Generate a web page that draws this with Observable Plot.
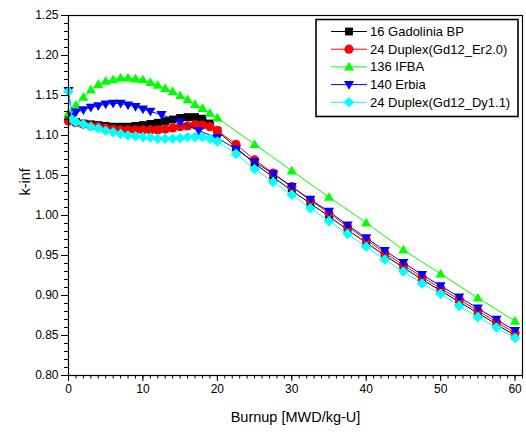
<!DOCTYPE html>
<html><head><meta charset="utf-8">
<script src="https://cdn.jsdelivr.net/npm/d3@7"></script>
<script src="https://cdn.jsdelivr.net/npm/@observablehq/plot@0.6"></script>
<style>body{margin:0;background:#fff;} #chart{width:526px;height:437px;}</style>
</head><body><div id="chart"></div>
<script>
// ---- data ----
const early1to20 = d3.range(1, 21);
const late25 = [22.5,25,27.5,30,32.5,35,37.5,40,42.5,45,47.5,50,52.5,55,57.5,60];

const seriesNames = ["16 Gadolinia BP","24 Duplex(Gd12_Er2.0)","136 IFBA","140 Erbia","24 Duplex(Gd12_Dy1.1)"];
const seriesColors = ["#000000","#ff0000","#00ff00","#0000ff","#00ffff"];

const gadX = [0, ...early1to20, ...late25];
const gadY = [1.120,1.117,1.115,1.114,1.113,1.112,1.111,1.111,1.111,1.112,1.113,1.1145,1.116,1.118,1.120,1.122,1.123,1.123,1.121,1.115,1.106,
  1.085,1.065,1.048,1.031,1.015,0.999,0.982,0.966,0.950,0.935,0.920,0.906,0.892,0.878,0.864,0.850];

const redX = [0, ...early1to20, ...late25];
const redY = [1.118,1.116,1.114,1.112,1.111,1.109,1.108,1.107,1.107,1.107,1.107,1.107,1.107,1.108,1.1095,1.111,1.112,1.1135,1.113,1.111,1.106,
  1.089,1.0695,1.053,1.036,1.019,1.003,0.986,0.970,0.953,0.938,0.923,0.909,0.895,0.881,0.867,0.853];

const greenX = [0, ...early1to20, 25,30,35,40,45,50,55,60];
const greenY = [1.128,1.138,1.148,1.157,1.164,1.168,1.170,1.172,1.172,1.171,1.170,1.1665,1.163,1.159,1.155,1.150,1.145,1.139,1.134,1.128,1.122,
  1.089,1.056,1.023,0.991,0.957,0.927,0.897,0.868];

const blueX = [0,0.5,1,2,3,4,5,6,7,8,9,10,11,12.5,15,17.5,20, ...late25];
const blueY = [1.156,1.124,1.129,1.132,1.135,1.137,1.139,1.140,1.140,1.138,1.136,1.133,1.130,1.126,1.117,1.106,1.097,
  1.083,1.067,1.052,1.036,1.020,1.005,0.988,0.972,0.956,0.941,0.926,0.912,0.898,0.884,0.870,0.856];

const cyanX = [0,0.5, ...early1to20, ...late25];
const cyanY = [1.155,1.120,1.117,1.114,1.111,1.109,1.106,1.104,1.102,1.100,1.099,1.098,1.0975,1.096,1.096,1.096,1.0967,1.098,1.098,1.098,1.096,1.0925,
  1.077,1.058,1.042,1.026,1.009,0.993,0.977,0.961,0.945,0.930,0.915,0.902,0.887,0.873,0.860,0.847];

const xMajor = [0,10,20,30,40,50,60];
const xMinor = d3.range(0, 62, 1);
const yMajor = [0.80,0.85,0.90,0.95,1.00,1.05,1.10,1.15,1.20,1.25];
const yMinor = d3.range(80, 126, 1).map(d => d / 100);

// ---- symbols ----
const mk = f => ({draw(ctx, size){ const r = Math.sqrt(size / Math.PI); f(ctx, r); }});
const symSquare = mk((c, r) => { const h = 0.85 * r; c.rect(-h, -h, 2 * h, 2 * h); });
const symCircle = mk((c, r) => { c.moveTo(r, 0); c.arc(0, 0, r, 0, 2 * Math.PI); });
const symTriUp = mk((c, r) => { c.moveTo(0, -1.1 * r); c.lineTo(1.1 * r, 0.8 * r); c.lineTo(-1.1 * r, 0.8 * r); c.closePath(); });
const symTriDown = mk((c, r) => { c.moveTo(0, 1.1 * r); c.lineTo(1.1 * r, -0.8 * r); c.lineTo(-1.1 * r, -0.8 * r); c.closePath(); });
const symDiamond = mk((c, r) => { const h = 1.15 * r; c.moveTo(0, -h); c.lineTo(h, 0); c.lineTo(0, h); c.lineTo(-h, 0); c.closePath(); });
const symbols = [symSquare, symCircle, symTriUp, symTriDown, symDiamond];

const seriesData = [[gadX, gadY],[redX, redY],[greenX, greenY],[blueX, blueY],[cyanX, cyanY]]
  .map(([xs, ys]) => xs.map((x, i) => ({x, y: ys[i]})));

const seriesMarks = seriesData.flatMap((data, i) => [
  Plot.line(data, {x: "x", y: "y", stroke: seriesColors[i], strokeWidth: 1}),
  Plot.dot(data, {x: "x", y: "y", symbol: symbols[i], r: 4.6, fill: seriesColors[i], stroke: "none"})
]);

const chart = Plot.plot({
  width: 526, height: 437,
  marginLeft: 68, marginRight: 4, marginTop: 15, marginBottom: 62,
  x: {domain: [0, 61]},
  y: {domain: [0.80, 1.25]},
  style: {fontFamily: "'Liberation Sans', Arial, sans-serif", fontSize: "12px", color: "black", background: "white"},
  marks: [
    ...seriesMarks,
    Plot.frame({stroke: "black", strokeWidth: 1.2}),
    Plot.axisX({ticks: xMinor, tickSize: 3.5, text: null, label: null}),
    Plot.axisX({ticks: xMajor, tickSize: 6, tickPadding: 3, tickFormat: d => String(d), label: null}),
    Plot.axisY({ticks: yMinor, tickSize: 4, text: null, label: null}),
    Plot.axisY({ticks: yMajor, tickSize: 7, tickPadding: 3, tickFormat: d3.format(".2f"), label: null}),
    Plot.text(["Burnup [MWD/kg-U]"], {frameAnchor: "bottom", dy: 46, fontSize: 14.5}),
    Plot.text(["k-inf"], {frameAnchor: "left", dx: -43, rotate: -90, fontSize: 14.5})
  ]
});

// ---- legend overlay ----
const svg = d3.select(chart);
const lg = svg.append("g").attr("font-family", "'Liberation Sans', Arial, sans-serif")
  .attr("font-size", "13px").attr("text-anchor", "start");
lg.append("rect").attr("x", 316).attr("y", 19.5).attr("width", 202).attr("height", 97)
  .attr("fill", "white").attr("stroke", "black").attr("stroke-width", 1.6);
seriesNames.forEach((name, i) => {
  const yy = 31.5 + 17.7 * i;
  lg.append("line").attr("x1", 331).attr("x2", 367).attr("y1", yy).attr("y2", yy)
    .attr("stroke", seriesColors[i]).attr("stroke-width", 1);
  lg.append("path").attr("transform", `translate(349,${yy})`)
    .attr("d", d3.symbol(symbols[i], Math.PI * 4.6 * 4.6)()).attr("fill", seriesColors[i]);
  lg.append("text").attr("x", 370).attr("y", yy).attr("dy", "0.35em")
    .attr("text-anchor", "start").attr("fill", "black").text(name);
});

document.getElementById("chart").appendChild(chart);
</script>
</body></html>
